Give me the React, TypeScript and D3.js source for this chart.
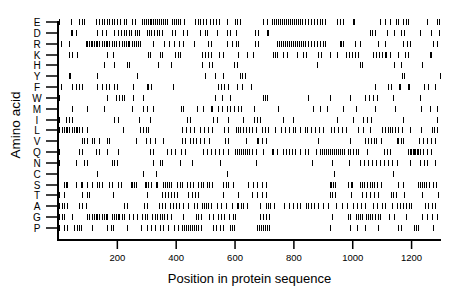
import React, { useEffect, useRef } from 'react';
import * as d3 from 'd3';

const AMINO = ['E', 'D', 'R', 'K', 'H', 'Y', 'F', 'W', 'M', 'I', 'L', 'V', 'Q', 'N', 'C', 'S', 'T', 'A', 'G', 'P'];

const E_POS = [5, 43, 73, 80, 88, 130, 138, 148, 155, 165, 172, 182, 189, 199, 212, 223, 230, 250, 260, 284, 291, 298, 305, 311, 315, 322, 328, 335, 342, 349, 356, 363, 369, 386, 393, 400, 407, 414, 427, 465, 475, 482, 492, 502, 516, 526, 536, 546, 573, 601, 608, 618, 696, 710, 727, 734, 740, 747, 754, 761, 768, 774, 781, 788, 795, 802, 808, 815, 822, 829, 839, 849, 860, 870, 880, 890, 897, 907, 948, 958, 968, 1002, 1005, 1094, 1111, 1128, 1149, 1156, 1173, 1183, 1190, 1254, 1288, 1295];
const D_POS = [43, 49, 60, 134, 151, 162, 192, 203, 213, 226, 230, 243, 247, 260, 267, 274, 301, 308, 315, 325, 335, 342, 352, 386, 397, 424, 437, 482, 499, 506, 540, 574, 584, 604, 669, 679, 710, 713, 1060, 1067, 1077, 1118, 1142, 1166, 1176, 1230, 1268, 1295];
const R_POS = [9, 39, 94, 100, 106, 111, 116, 121, 128, 134, 141, 148, 155, 162, 168, 175, 182, 189, 196, 209, 216, 223, 230, 237, 243, 250, 257, 264, 271, 277, 322, 359, 376, 393, 410, 424, 461, 509, 519, 574, 591, 604, 611, 669, 679, 744, 751, 757, 764, 771, 778, 785, 791, 798, 805, 812, 819, 825, 832, 839, 849, 860, 870, 880, 890, 900, 907, 958, 963, 968, 1009, 1026, 1087, 1111, 1173, 1186, 1196, 1275, 1288];
const K_POS = [36, 49, 63, 168, 186, 305, 311, 345, 352, 397, 407, 414, 488, 499, 509, 519, 546, 560, 611, 641, 662, 730, 737, 744, 764, 778, 812, 832, 843, 883, 894, 924, 948, 979, 989, 999, 1009, 1019, 1070, 1080, 1091, 1101, 1111, 1115, 1128, 1156, 1179, 1190, 1264, 1268];
const H_POS = [155, 192, 233, 243, 339, 383, 488, 512, 523, 597, 608, 880, 1026, 1033, 1142, 1166, 1237];
const Y_POS = [36, 41, 134, 267, 499, 533, 560, 618, 625, 635, 1169, 1176, 1298];
const F_POS = [9, 49, 60, 70, 80, 131, 134, 148, 162, 175, 189, 199, 254, 301, 305, 315, 390, 543, 553, 563, 577, 608, 625, 655, 1077, 1121, 1132, 1159, 1162, 1190, 1193, 1244, 1258, 1281];
const W_POS = [5, 165, 196, 206, 216, 226, 254, 288, 533, 556, 584, 696, 703, 710, 849, 924, 992, 1043, 1057, 1070, 1084, 1139, 1230];
const M_POS = [49, 100, 155, 250, 288, 301, 322, 417, 424, 471, 492, 519, 523, 543, 556, 574, 584, 597, 611, 621, 666, 747, 867, 890, 914, 968, 1012, 1077, 1145, 1234, 1264, 1288];
const I_POS = [5, 26, 36, 46, 192, 203, 274, 311, 437, 448, 526, 540, 577, 628, 666, 676, 686, 764, 798, 948, 1002, 1036, 1050, 1063, 1173, 1288];
const L_POS = [5, 12, 19, 26, 32, 39, 46, 53, 60, 66, 73, 80, 100, 220, 277, 288, 298, 305, 420, 434, 448, 461, 482, 495, 509, 523, 563, 577, 604, 611, 618, 628, 638, 648, 659, 672, 693, 703, 713, 737, 757, 771, 785, 798, 805, 822, 839, 846, 860, 873, 887, 900, 928, 938, 951, 965, 979, 1019, 1036, 1060, 1101, 1111, 1121, 1128, 1135, 1145, 1156, 1169, 1196, 1234, 1271, 1278, 1288];
const V_POS = [80, 90, 100, 117, 121, 141, 165, 175, 264, 298, 311, 328, 356, 420, 431, 448, 458, 468, 482, 495, 512, 567, 577, 638, 676, 679, 693, 706, 883, 992, 1043, 1053, 1063, 1074, 1080, 1098, 1152, 1156, 1166, 1173, 1227, 1241, 1254, 1268, 1281];
const Q_POS = [5, 73, 80, 128, 141, 168, 203, 311, 322, 369, 383, 397, 417, 431, 492, 506, 519, 533, 546, 560, 577, 601, 608, 614, 621, 628, 635, 641, 648, 659, 672, 696, 727, 730, 744, 764, 774, 785, 795, 805, 822, 839, 849, 876, 890, 897, 904, 911, 917, 924, 931, 938, 945, 951, 958, 965, 972, 985, 992, 1002, 1012, 1019, 1050, 1108, 1118, 1128, 1190, 1195, 1200, 1205, 1210, 1215, 1220, 1225, 1230, 1241, 1254, 1268];
const N_POS = [5, 60, 90, 97, 182, 189, 199, 322, 345, 352, 414, 454, 550, 672, 863, 931, 989, 1026, 1040, 1053, 1067, 1080, 1094, 1108, 1121, 1135, 1152, 1196, 1230, 1244, 1254, 1281];
const C_POS = [134, 288, 332, 574, 938, 1139];
const S_POS = [22, 26, 32, 60, 77, 80, 97, 117, 131, 141, 151, 175, 182, 203, 213, 247, 250, 257, 264, 294, 298, 305, 315, 332, 335, 356, 363, 369, 376, 383, 403, 414, 420, 437, 448, 458, 475, 485, 492, 506, 512, 523, 560, 570, 577, 594, 645, 662, 676, 693, 706, 924, 928, 934, 941, 985, 996, 999, 1026, 1033, 1040, 1050, 1060, 1067, 1074, 1084, 1098, 1156, 1173, 1224, 1230, 1237, 1244, 1251, 1261, 1275, 1285];
const T_POS = [1, 5, 22, 80, 97, 107, 186, 301, 352, 363, 373, 383, 393, 403, 441, 454, 465, 475, 560, 611, 659, 676, 693, 706, 924, 931, 941, 996, 1033, 1047, 1060, 1074, 1087, 1132, 1139, 1149, 1176, 1237, 1292];
const A_POS = [5, 12, 15, 22, 32, 70, 80, 94, 223, 233, 291, 301, 342, 352, 363, 380, 390, 400, 410, 424, 441, 461, 471, 488, 495, 502, 509, 519, 540, 553, 570, 591, 608, 611, 621, 628, 641, 686, 706, 713, 720, 734, 768, 785, 798, 812, 822, 843, 849, 860, 870, 883, 900, 917, 945, 965, 982, 1002, 1016, 1029, 1043, 1070, 1084, 1101, 1111, 1135, 1152, 1162, 1173, 1183, 1193, 1200, 1247, 1258, 1271, 1281];
const G_POS = [2, 12, 22, 46, 100, 107, 114, 121, 128, 134, 141, 148, 155, 162, 168, 182, 189, 196, 203, 209, 216, 223, 243, 254, 267, 284, 294, 301, 318, 328, 335, 345, 352, 359, 369, 383, 424, 468, 475, 485, 512, 526, 543, 553, 563, 580, 594, 601, 686, 696, 706, 717, 931, 985, 992, 1012, 1019, 1026, 1033, 1047, 1053, 1060, 1067, 1077, 1087, 1094, 1125, 1142, 1183, 1237, 1254, 1271, 1288];
const P_POS = [5, 22, 32, 53, 63, 73, 77, 117, 168, 179, 186, 233, 281, 301, 315, 328, 345, 356, 373, 393, 407, 420, 427, 434, 441, 448, 454, 461, 468, 475, 485, 526, 536, 550, 560, 584, 591, 597, 676, 683, 689, 696, 703, 710, 717, 924, 992, 1016, 1043, 1087, 1156, 1166, 1210, 1217, 1224, 1275];

const SERIES: number[][] = [E_POS, D_POS, R_POS, K_POS, H_POS, Y_POS, F_POS, W_POS, M_POS, I_POS, L_POS, V_POS, Q_POS, N_POS, C_POS, S_POS, T_POS, A_POS, G_POS, P_POS];

const X_TICKS = [200, 400, 600, 800, 1000, 1200];
const X_MAX = 1300;
const X_TITLE = 'Position in protein sequence';
const Y_TITLE = 'Amino acid';

const FONT = '"Liberation Sans", Arial, Helvetica, sans-serif';

export default function App() {
  const ref = useRef<SVGSVGElement>(null);

  useEffect(() => {
    const svg = d3.select(ref.current);
    svg.selectAll('*').remove();

    const left = 58;
    const right = 441;
    const axisY = 239;

    const x = d3.scaleLinear().domain([0, X_MAX]).range([left + 0.5, right]);
    const y = d3.scalePoint<string>().domain(AMINO).range([22, 228]);

    svg.append('rect').attr('width', 460).attr('height', 299).attr('fill', '#fff');

    // marks
    const g = svg.append('g');
    AMINO.forEach((aa, i) => {
      const cy = y(aa) as number;
      g.selectAll(null)
        .data(SERIES[i])
        .enter()
        .append('rect')
        .attr('x', (d) => Math.floor(x(d)))
        .attr('y', Math.round(cy - 3))
        .attr('width', 1)
        .attr('height', 6)
        .attr('fill', '#000')
        .attr('shape-rendering', 'crispEdges');
    });

    // y axis ticks and labels
    AMINO.forEach((aa) => {
      const cy = Math.round(y(aa) as number);
      svg.append('rect')
        .attr('x', 46)
        .attr('y', cy - 0.75)
        .attr('width', left - 46)
        .attr('height', 1.5)
        .attr('fill', '#000');
      svg.append('text')
        .attr('x', 37)
        .attr('y', cy + 3.6)
        .attr('text-anchor', 'middle')
        .attr('font-family', FONT)
        .attr('font-size', 10)
        .attr('fill', '#000')
        .text(aa);
    });

    // axis lines
    svg.append('rect').attr('x', left - 1).attr('y', 21).attr('width', 2).attr('height', axisY + 2 - 21).attr('fill', '#000');
    svg.append('rect').attr('x', left - 1).attr('y', axisY).attr('width', right - left + 1).attr('height', 2).attr('fill', '#000');

    // x ticks
    X_TICKS.forEach((t) => {
      const tx = x(t);
      svg.append('rect')
        .attr('x', tx - 0.75)
        .attr('y', axisY + 1)
        .attr('width', 1.5)
        .attr('height', 9)
        .attr('fill', '#000');
      svg.append('text')
        .attr('x', tx)
        .attr('y', 261)
        .attr('text-anchor', 'middle')
        .attr('font-family', FONT)
        .attr('font-size', 9.5)
        .attr('fill', '#000')
        .text(String(t));
    });

    svg.append('text')
      .attr('x', (left + right) / 2)
      .attr('y', 283)
      .attr('text-anchor', 'middle')
      .attr('font-family', FONT)
      .attr('font-size', 13)
      .attr('fill', '#000')
      .text(X_TITLE);

    svg.append('text')
      .attr('transform', `translate(20, ${(22 + 228) / 2}) rotate(-90)`)
      .attr('text-anchor', 'middle')
      .attr('font-family', FONT)
      .attr('font-size', 13.5)
      .attr('fill', '#000')
      .text(Y_TITLE);
  }, []);

  return (
    <svg
      ref={ref}
      width={460}
      height={299}
      style={{ position: 'absolute', left: 0, top: 0, display: 'block' }}
    />
  );
}
